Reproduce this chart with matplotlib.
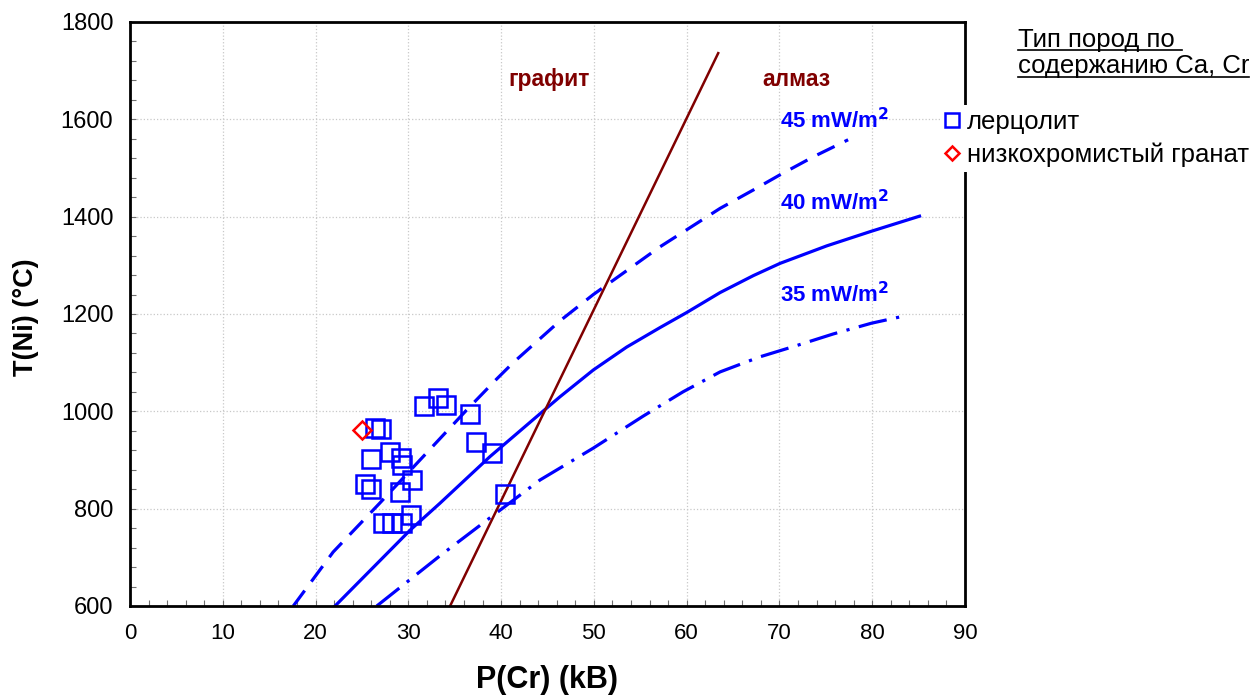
import matplotlib
matplotlib.use("Agg")
import matplotlib.pyplot as plt
from matplotlib import font_manager
from matplotlib.lines import Line2D
from matplotlib.ticker import MultipleLocator

plt.rcParams["font.family"] = ["Liberation Sans", "DejaVu Sans"]

# лерцолит
lherz_p = [26.4, 27.0, 31.7, 33.2, 34.1, 36.6, 37.3, 39.0, 40.4, 26.0, 28.0,
           29.2, 29.3, 30.4, 25.3, 26.0, 29.1, 27.3, 28.2, 29.3, 30.3]
lherz_t = [965, 963, 1011, 1027, 1014, 994, 937, 915, 831, 902, 917,
           905, 890, 859, 851, 840, 835, 770, 770, 770, 787]

# низкохромистый гранат
garnet_p = [25.0]
garnet_t = [962]

# геотермы
geo45_p = [17.6, 21.9, 26.9, 31.6, 36.3, 39.5, 41.3, 46.35, 49.94, 53.53, 57.12,
           60.0, 63.6, 67.2, 70.06, 73.65, 77.4]
geo45_t = [600, 711, 811, 907, 1003, 1066, 1100, 1186, 1240, 1289, 1338,
           1373, 1417, 1455, 1486, 1523, 1558]

geo40_p = [22.1, 30.2, 33.4, 38.8, 44.5, 46.35, 49.94, 53.53, 57.12, 60.0, 63.6,
           67.2, 70.06, 75.1, 79.9, 85.1]
geo40_t = [600, 756, 811, 907, 1000, 1030, 1085, 1132, 1172, 1203, 1244,
           1279, 1304, 1340, 1370, 1401]

geo35_p = [26.6, 33.4, 39.2, 44.2, 49.9, 53.5, 55.3, 59.6, 63.6, 67.9, 71.5, 75.8, 79.9, 83.0]
geo35_t = [600, 703, 787, 859, 924, 968, 990, 1040, 1081, 1112, 1133, 1159, 1181, 1194]

# линия графит-алмаз
gd_p = [34.5, 63.4]
gd_t = [600, 1736]

BLUE = "#0000FF"
BROWN = "#800000"

try:
    font_manager.findfont("Liberation Sans Narrow", fallback_to_default=False)
    narrow = "Liberation Sans Narrow"
except ValueError:
    narrow = "Liberation Sans"

fig = plt.figure(figsize=(12.59, 6.97), dpi=100)
ax = fig.add_axes([130 / 1259, 91 / 697, 835 / 1259, 584 / 697])

ax.plot(geo45_p, geo45_t, color=BLUE, linewidth=2.3, dashes=(6, 3.5))
ax.plot(geo40_p, geo40_t, color=BLUE, linewidth=2.3)
ax.plot(geo35_p, geo35_t, color=BLUE, linewidth=2.3, dashes=(9, 3, 1, 3))
ax.plot(gd_p, gd_t, color=BROWN, linewidth=1.8)

ax.plot(lherz_p, lherz_t, linestyle="none", marker="s", markersize=13,
        markerfacecolor="none", markeredgecolor=BLUE, markeredgewidth=1.8, zorder=4)
ax.plot(garnet_p, garnet_t, linestyle="none", marker="D", markersize=9.5,
        markerfacecolor="none", markeredgecolor="#FF0000", markeredgewidth=1.8, zorder=4)

ax.text(45.2, 1681, "графит", color=BROWN, fontsize=16.5, fontweight="bold", ha="center", va="center")
ax.text(71.8, 1681, "алмаз", color=BROWN, fontsize=16.5, fontweight="bold", ha="center", va="center")
ax.text(76.0, 1598, "45 mW/m$^\\mathbf{2}$", color=BLUE, fontsize=16, fontweight="bold", ha="center", va="center")
ax.text(76.0, 1428, "40 mW/m$^\\mathbf{2}$", color=BLUE, fontsize=16, fontweight="bold", ha="center", va="center")
ax.text(76.0, 1239, "35 mW/m$^\\mathbf{2}$", color=BLUE, fontsize=16, fontweight="bold", ha="center", va="center")

ax.set_xlim(0, 90)
ax.set_ylim(600, 1800)
ax.xaxis.set_major_locator(MultipleLocator(10))
ax.xaxis.set_minor_locator(MultipleLocator(2))
ax.yaxis.set_major_locator(MultipleLocator(200))
ax.yaxis.set_minor_locator(MultipleLocator(40))
ax.grid(True, which="major", color="#C8C8C8", linestyle=":", linewidth=0.9)
ax.set_axisbelow(True)

ax.tick_params(which="both", direction="in", color="#707070", length=4, width=0.8)
ax.tick_params(axis="y", labelsize=17, pad=12)
ax.tick_params(axis="x", labelsize=16, pad=12)
for lab in ax.get_xticklabels():
    lab.set_fontfamily(narrow)
for spine in ax.spines.values():
    spine.set_linewidth(2.0)
    spine.set_color("black")

ax.set_xlabel("P(Cr) (kB)", fontsize=22, fontweight="bold", va="center")
ax.xaxis.set_label_coords(0.5, -0.127)
ax.set_ylabel("T(Ni) (°C)", fontsize=19.5, fontweight="bold", va="center")
ax.yaxis.set_label_coords(-0.1246, 0.495)

handles = [
    Line2D([], [], linestyle="none", marker="s", markersize=10.5, markerfacecolor="none",
           markeredgecolor=BLUE, markeredgewidth=1.8),
    Line2D([], [], linestyle="none", marker="D", markersize=7.5, markerfacecolor="none",
           markeredgecolor="#FF0000", markeredgewidth=1.8),
]
leg = ax.legend(handles, ["лерцолит", "низкохромистый гранат"], loc="upper left",
                bbox_to_anchor=(940 / 1259, 1 - 105 / 697), bbox_transform=fig.transFigure,
                frameon=True, facecolor="white", edgecolor="none", framealpha=1.0,
                fontsize=18.5, handlelength=0.55, handletextpad=0.3, labelspacing=0.32,
                borderpad=0.2, borderaxespad=0, fancybox=False)

title_lines = ["Тип пород по ", "содержанию Ca, Cr"]
title_base = [47, 73.5]
texts = []
for line, ypx in zip(title_lines, title_base):
    texts.append(fig.text(1018 / 1259, 1 - ypx / 697, line, fontsize=18.5, ha="left", va="baseline"))

fig.canvas.draw()
renderer = fig.canvas.get_renderer()
for t, ypx in zip(texts, title_base):
    bb = t.get_window_extent(renderer)
    x0, x1 = bb.x0 / fig.bbox.width, bb.x1 / fig.bbox.width
    yline = 1 - (ypx + 3) / 697
    fig.add_artist(Line2D([x0, x1], [yline, yline], transform=fig.transFigure,
                          color="black", linewidth=1.2))

fig.savefig("out.png", dpi=100)
plt.close(fig)
